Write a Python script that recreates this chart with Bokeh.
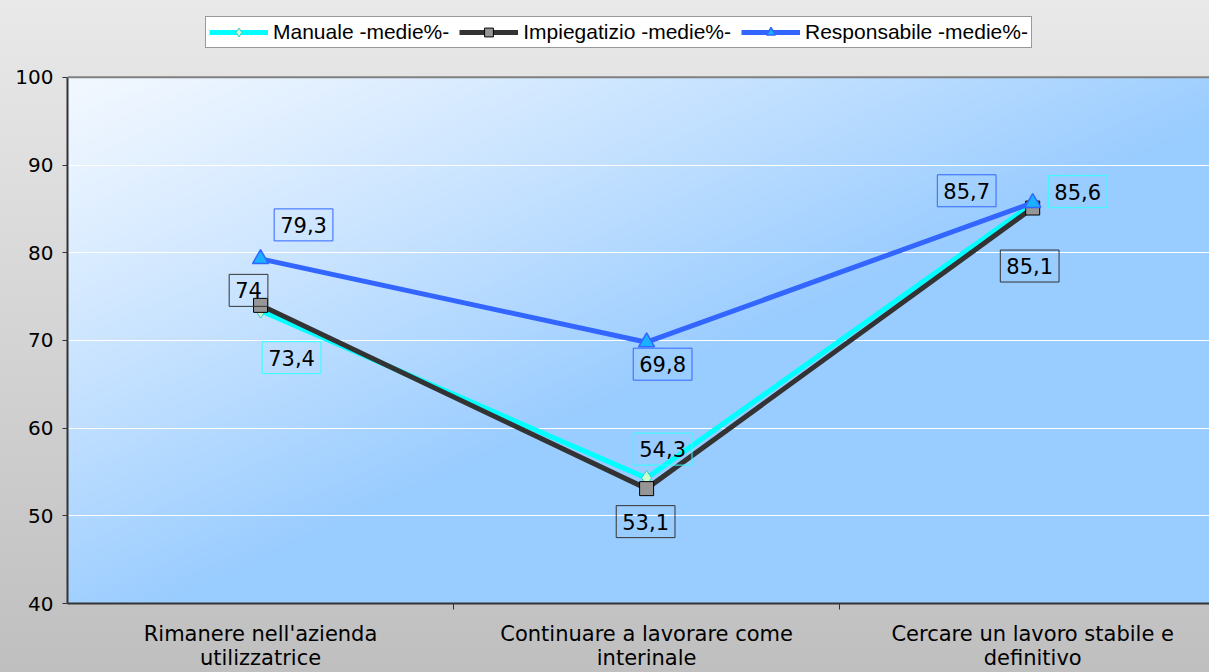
import numpy as np
from bokeh.plotting import figure
from bokeh.models import (Range1d, FixedTicker, Legend, LegendItem, Label, Span)
from bokeh.embed import file_html
from bokeh.resources import INLINE

# ---- data ----
x_labels = ["Rimanere nell'azienda\nutilizzatrice",
            "Continuare a lavorare come\ninterinale",
            "Cercare un lavoro stabile e\ndefinitivo"]
x_pos = [0, 1, 2]
manuale = [73.4, 54.3, 85.6]
impiegatizio = [74.0, 53.1, 85.1]
responsabile = [79.3, 69.8, 85.7]
series_names = ["Manuale -medie%-", "Impiegatizio -medie%-", "Responsabile -medie%-"]
y_ticks = [40, 50, 60, 70, 80, 90, 100]
y_min, y_max = 40, 100

def fmt(v):
    s = ("%.1f" % v).rstrip("0").rstrip(".")
    return s.replace(".", ",")

# layout: plot area 527 px tall for 40..100, 77 px of headroom for the legend
top_extra = 77 * (y_max - y_min) / 527.0

p = figure(width=1209, height=672, output_backend="svg", toolbar_location=None,
           title=None,
           x_range=Range1d(-0.5, 2.458), y_range=Range1d(y_min, y_max + top_extra),
           min_border_left=67, min_border_right=0, min_border_top=0, min_border_bottom=68,
           border_fill_color=None, background_fill_color=None,
           styles={"background": "linear-gradient(to bottom, #e9e9e9, #bfbfbf)"})
p.outline_line_color = None

# plot-area gradient background (covers 40..100 only)
nx, ny = 300, 150
u = np.linspace(0, 1, nx)[None, :]
v = np.linspace(1, 0, ny)[:, None]  # row 0 is bottom -> v=1 (from top)
t = np.clip((u + v) / 1.1, 0, 1) ** 1.15
c0 = np.array([242, 248, 255]); c1 = np.array([153, 204, 255])
r = (c0[0] + (c1[0] - c0[0]) * t).astype(np.uint32)
g = (c0[1] + (c1[1] - c0[1]) * t).astype(np.uint32)
b = (c0[2] + (c1[2] - c0[2]) * t).astype(np.uint32)
img = (255 << 24) | (b << 16) | (g << 8) | r
p.image_rgba(image=[img.astype(np.uint32)], x=-0.5, y=y_min, dw=2.958, dh=y_max - y_min,
             level="image")

# grid
p.xgrid.visible = False
p.ygrid.grid_line_color = "white"
p.ygrid.grid_line_width = 1
p.ygrid.ticker = FixedTicker(ticks=y_ticks)
p.add_layout(Span(location=y_max, dimension="width", line_color="#808080", line_width=2))

# axes
p.yaxis.ticker = FixedTicker(ticks=y_ticks)
p.yaxis.bounds = (y_min, y_max)
p.yaxis.major_tick_out = 5
p.yaxis.major_tick_in = 0
p.yaxis.minor_tick_line_color = None
p.yaxis.axis_line_color = "#333333"
p.yaxis.axis_line_width = 2
p.yaxis.major_tick_line_color = "#333333"
p.yaxis.major_label_standoff = 9
p.yaxis.major_label_text_font = "DejaVu Sans"
p.yaxis.major_label_text_font_size = "20px"
p.yaxis.major_label_text_color = "#000000"

p.xaxis.ticker = FixedTicker(ticks=x_pos, minor_ticks=[0.5, 1.5])
p.xaxis.major_label_overrides = {k: lab for k, lab in zip(x_pos, x_labels)}
p.xaxis.major_tick_line_color = None
p.xaxis.minor_tick_out = 6
p.xaxis.minor_tick_in = 0
p.xaxis.minor_tick_line_color = "#333333"
p.xaxis.axis_line_color = "#333333"
p.xaxis.axis_line_width = 2
p.xaxis.major_label_standoff = 12
p.xaxis.major_label_text_font = "DejaVu Sans"
p.xaxis.major_label_text_font_size = "21px"
p.xaxis.major_label_text_color = "#000000"
p.xaxis.major_label_text_line_height = 1.0

# series
l1 = p.line(x_pos, manuale, line_color="#00ffff", line_width=5)
m1 = p.scatter(x_pos, manuale, marker="diamond", size=15, fill_color="#ccffcc",
               line_color="#33cccc", line_width=1)
l2 = p.line(x_pos, impiegatizio, line_color="#333333", line_width=5)
m2 = p.scatter(x_pos, impiegatizio, marker="square", size=14, fill_color="#969696",
               line_color="#000000", line_width=1)
l3 = p.line(x_pos, responsabile, line_color="#3366ff", line_width=5)
m3 = p.scatter(x_pos, responsabile, marker="triangle", size=16, fill_color="#1ab2ff",
               line_color="#3366ff", line_width=1.5)

# data labels (offsets in pixels: style only)
label_specs = [
    (manuale, "#33ffff", [(31, -47), (16, 29), (45, 12)]),
    (impiegatizio, "#333333", [(-12, 15), (-1, -33), (-3, -58)]),
    (responsabile, "#3366ff", [(43, 34), (16, -22), (-66, 12)]),
]
for vals, col, offs in label_specs:
    for xi, val, (dx, dy) in zip(x_pos, vals, offs):
        p.add_layout(Label(x=xi, y=val, x_offset=dx, y_offset=dy, text=fmt(val),
                           text_align="center", text_baseline="middle",
                           text_font="DejaVu Sans", text_font_size="21px",
                           text_color="#000000", border_line_color=col,
                           border_line_width=1, background_fill_color=None,
                           padding=dict(x=6, y=8)))

# legend (inside the top headroom)
legend = Legend(items=[LegendItem(label=series_names[0], renderers=[l1, m1]),
                       LegendItem(label=series_names[1], renderers=[l2, m2]),
                       LegendItem(label=series_names[2], renderers=[l3, m3])],
                orientation="horizontal", location=(138, 555))
legend.label_text_font = "Liberation Sans"
legend.label_text_font_size = "21px"
legend.label_text_color = "#000000"
legend.glyph_width = 59
legend.glyph_height = 22
legend.label_standoff = 5
legend.spacing = 10
legend.padding = 3
legend.margin = 0
legend.border_line_color = "#333333"
legend.border_line_width = 1
legend.background_fill_color = "white"
legend.background_fill_alpha = 1
p.add_layout(legend, "center")

open("out.html", "w").write(file_html(p, INLINE))
